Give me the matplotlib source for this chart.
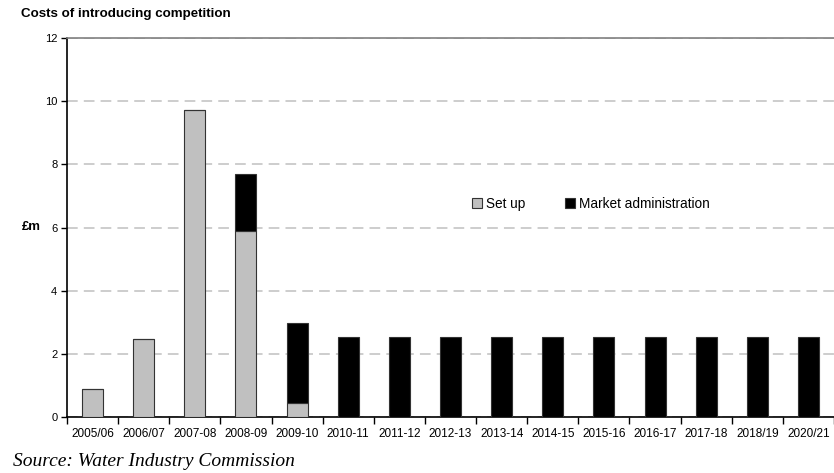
import numpy as np
import matplotlib
matplotlib.use("Agg")
import matplotlib.pyplot as plt
from matplotlib.patches import Patch

years = ["2005/06", "2006/07", "2007-08", "2008-09", "2009-10", "2010-11",
         "2011-12", "2012-13", "2013-14", "2014-15", "2015-16", "2016-17",
         "2017-18", "2018/19", "2020/21"]
set_up = [0.88, 2.48, 9.72, 5.90, 0.44, 0, 0, 0, 0, 0, 0, 0, 0, 0, 0]
market_admin = [0, 0, 0, 1.78, 2.53, 2.52, 2.52, 2.52, 2.52, 2.52,
                2.52, 2.52, 2.52, 2.52, 2.52]

SETUP_GREY = "#c0c0c0"
GRID_GREY = "#c0c0c0"

plt.rcParams["font.family"] = ["Liberation Sans", "DejaVu Sans"]

fig = plt.figure(figsize=(8.34, 4.73), dpi=100)
ax = fig.add_axes([67 / 834, 56 / 473, 767 / 834, 379 / 473])

x = np.arange(len(years))
width = 0.41
ax.bar(x, set_up, width, color=SETUP_GREY, edgecolor="#333333", linewidth=0.8, zorder=3)
ax.bar(x, market_admin, width, bottom=set_up, color="black",
       edgecolor="#333333", linewidth=0.8, zorder=3)

ax.set_xlim(-0.5, len(years) - 0.5)
ax.set_ylim(0, 12)
ax.set_yticks(np.arange(0, 13, 2))
ax.yaxis.grid(True, color=GRID_GREY, linestyle=(0, (7, 4)), linewidth=1.1, zorder=0)

# year labels under the bars, tick marks on the category boundaries
ax.set_xticks(x)
ax.set_xticklabels(years)
ax.set_xticks(np.arange(-0.5, len(years)), minor=True)
ax.tick_params(axis="x", which="major", length=0, labelsize=8.5, pad=8)
ax.tick_params(axis="x", which="minor", length=5, width=1, color="black")
ax.tick_params(axis="y", length=4, width=1, labelsize=8, pad=3)

ax.spines["right"].set_visible(False)
ax.spines["top"].set_color("#808080")
ax.spines["top"].set_linewidth(1.2)
ax.spines["left"].set_linewidth(1.2)
ax.spines["bottom"].set_linewidth(1.2)

fig.text(21 / 834, 1 - 14 / 473, "Costs of introducing competition",
         fontsize=9.6, fontweight="bold", va="center", ha="left")
fig.text(22 / 834, 1 - 227 / 473, "£m", fontsize=9.5, fontweight="bold",
         va="center", ha="left")
fig.text(13 / 834, 1 - 461 / 473, "Source: Water Industry Commission",
         fontsize=14, style="italic", family=["Liberation Serif", "DejaVu Serif"],
         va="center", ha="left")

handles = [Patch(facecolor=SETUP_GREY, edgecolor="#333333", linewidth=0.8),
           Patch(facecolor="black", edgecolor="#333333", linewidth=0.8)]
ax.legend(handles, ["Set up", "Market administration"], ncol=2, frameon=False,
          loc="center", bbox_to_anchor=(591 / 834, 1 - 204 / 473),
          bbox_transform=fig.transFigure, fontsize=9.8, handlelength=0.75,
          handleheight=0.75, handletextpad=0.3, columnspacing=2.9)

fig.savefig("out.png", dpi=100)
